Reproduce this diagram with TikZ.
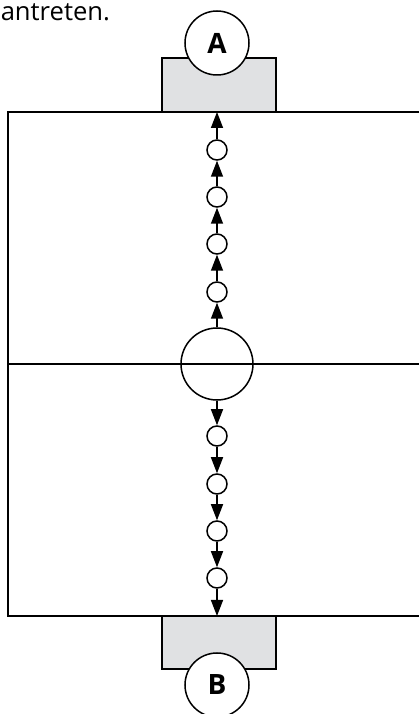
\documentclass[tikz,border=0pt]{standalone}
\usepackage{fontspec}
\setmainfont{Open Sans}
\usepackage{tikz}
\usetikzlibrary{arrows.meta, positioning}
\definecolor{boxgray}{RGB}{224,225,227}

\begin{document}
\begin{tikzpicture}[x=0.5pt, y=0.5pt, line width=0.75pt,
        ball/.style={circle, draw, minimum size=10pt, inner sep=0pt},
        keeper/.style={circle, draw, fill=white, minimum size=32pt, inner sep=0pt,
            font=\bfseries\fontsize{14}{16}\selectfont},
        pass/.style={-{Triangle[length=8pt, width=6pt]}}]
        \useasboundingbox (0,0) rectangle (419,714);
        \node[anchor=base west, inner sep=0pt, font=\fontsize{12.8}{15}\selectfont] (txt) at (0,693) {antreten.};

        % goal boxes and field
        \draw[fill=boxgray] (162,602) rectangle (276,656);
        \draw[fill=boxgray] (162,98) rectangle (276,45);
        \draw (419,602) -- (8,602) -- (8,98) -- (419,98);
        \draw (8,350) -- (419,350);
        \coordinate (goalA) at (217,602);
        \coordinate (goalB) at (217,98);

        \node[keeper] (A) at (217,671) {A};
        \node[keeper] (B) at (217,29) {B};
        \node[circle, draw, minimum size=36pt, inner sep=0pt] (mid) at (217,350) {};

        % balls towards A and B
        \foreach \i/\y in {1/422, 2/470, 3/517, 4/564}
            \node[ball] (up\i) at (217,\y) {};
        \foreach \i/\y in {1/278, 2/230, 3/183, 4/136}
            \node[ball] (dn\i) at (217,\y) {};

        \draw[pass] (mid) -- (up1);
        \draw[pass] (up1) -- (up2);
        \draw[pass] (up2) -- (up3);
        \draw[pass] (up3) -- (up4);
        \draw[pass] (up4) -- (goalA);
        \draw[pass] (mid) -- (dn1);
        \draw[pass] (dn1) -- (dn2);
        \draw[pass] (dn2) -- (dn3);
        \draw[pass] (dn3) -- (dn4);
        \draw[pass] (dn4) -- (goalB);
    \end{tikzpicture}
\end{document}
